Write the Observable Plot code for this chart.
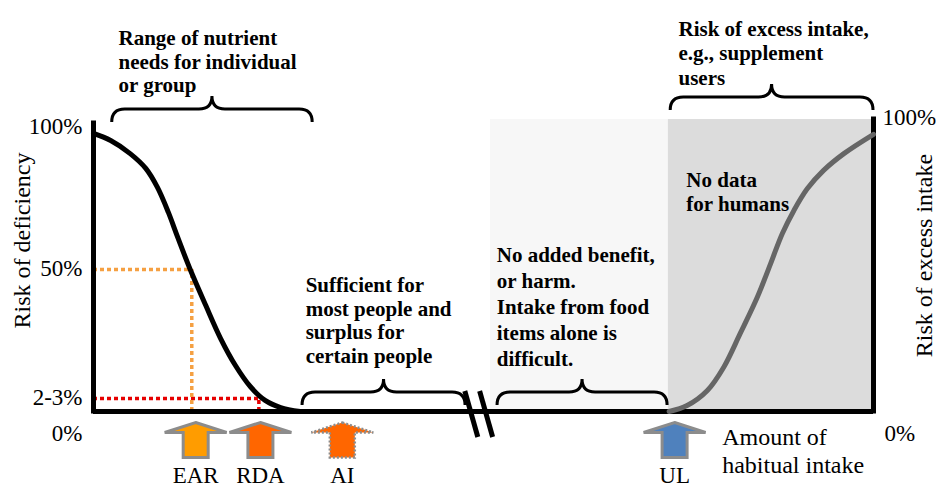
<!DOCTYPE html>
<html><head><meta charset="utf-8">
<script src="https://cdn.jsdelivr.net/npm/d3@7"></script>
<script src="https://cdn.jsdelivr.net/npm/@observablehq/plot@0.6"></script>
<style>
body{margin:0;background:#fff}
svg{display:block;overflow:visible}
svg text, svg tspan{font-family:'Liberation Serif','Times New Roman',serif !important}
</style>
</head><body><div id="chart"></div>
<script>
// ---- data (x: amount of habitual intake, arbitrary units 0-100; y: risk %) ----
const deficiencyX = [0, 2.2, 4.7, 6.7, 8.2, 9.6, 10.8, 12.4, 14.4, 16.3, 18.2, 20.1, 22.0, 24.0, 26.5];
const deficiencyY = [97.9, 95.4, 90.8, 85.6, 78.9, 70.1, 61.3, 50, 37.3, 25.7, 16.2, 8.8, 3.9, 1.4, 0];
const excessX = [73.8, 76.1, 78.7, 80.8, 82.9, 85.1, 86.8, 88.3, 89.8, 91.5, 93.6, 96.2, 100];
const excessY = [0, 2.1, 7.4, 15.6, 27.4, 40.2, 52.0, 62.6, 70.8, 78.4, 84.9, 90.8, 97.6];

const refLevels = [50, 4.6];          // 50% (EAR), 2-3% (RDA)
const refX = [12.6, 21.2];
const refColors = ["#f5a042", "#e60000"];

const leftTickValues = [100, 50, 4.6];
const leftTickLabels = ["100%", "50%", "2-3%"];

const arrowNames = ["EAR", "RDA", "AI", "UL"];
const arrowX = [13.1, 21.4, 31.9, 74.5];
const arrowFill = ["#ff9c00", "#ff6600", "#ff6600", "#4f81bd"];
const arrowDotted = [false, false, true, false];

const zoneX1 = [50.9, 73.7];
const zoneX2 = [73.7, 100];
const zoneTop = [102.8, 102.8];
const zoneFill = ["#f7f7f7", "#dcdcdc"];

const braceX1 = [2.4, 26.8, 51.8, 74.0];
const braceX2 = [28.1, 47.7, 73.6, 100];
const braceY = [101.8, 2.1, 2.1, 106];

const breakX = [48.5, 50.4];

const notes = [
  "Range of nutrient\nneeds for individual\nor group",
  "Sufficient for\nmost people and\nsurplus for\ncertain people",
  "No added benefit,\nor harm.\nIntake from food\nitems alone is\ndifficult.",
  "No data\nfor humans",
  "Risk of excess intake,\ne.g., supplement\nusers"
];
const noteX = [3.2, 27.2, 51.7, 76.0, 75.0];
const noteY = [134.9, 47.9, 59.2, 84.9, 138.4];
const noteLH = [1.12, 1.12, 1.24, 1.14, 1.17];

// ---- build tables ----
const deficiency = deficiencyX.map((x, i) => ({x, y: deficiencyY[i]}));
const excess = excessX.map((x, i) => ({x, y: excessY[i]}));
const refs = refLevels.map((y, i) => ({y, x: refX[i], c: refColors[i]}));
const arrows = arrowNames.map((n, i) => ({n, x: arrowX[i], fill: arrowFill[i], dotted: arrowDotted[i]}));
const zones = zoneX1.map((x1, i) => ({x1, x2: zoneX2[i], top: zoneTop[i], fill: zoneFill[i]}));
const braces = braceX1.map((x1, i) => ({x1, x2: braceX2[i], y: braceY[i]}));
const noteRows = notes.map((t, i) => ({t, x: noteX[i], y: noteY[i], lh: noteLH[i]}));

const arrowSymbol = {draw(ctx) {
  ctx.moveTo(0, -17.5); ctx.lineTo(31, -7.5); ctx.lineTo(12.5, -7.5); ctx.lineTo(12.5, 17.5);
  ctx.lineTo(-12.5, 17.5); ctx.lineTo(-12.5, -7.5); ctx.lineTo(-31, -7.5); ctx.closePath();
}};

function bracePath(x1, x2, y0, r, t) {
  const yb = y0 - r, yp = yb - t, xm = (x1 + x2) / 2;
  return `M${x1},${y0} Q${x1},${yb} ${x1 + r},${yb} L${xm - t},${yb} Q${xm},${yb} ${xm},${yp} ` +
         `Q${xm},${yb} ${xm + t},${yb} L${x2 - r},${yb} Q${x2},${yb} ${x2},${y0}`;
}

const decorations = (index, scales) => {
  const g = d3.create("svg:g").attr("fill", "none").attr("stroke", "#000");
  for (const b of braces) {
    g.append("path").attr("stroke-width", 3)
      .attr("d", bracePath(scales.x(b.x1), scales.x(b.x2), scales.y(b.y), 13, 13));
  }
  const y0 = scales.y(0);
  for (const bx of breakX) {
    const px = scales.x(bx);
    g.append("line").attr("stroke-width", 5)
      .attr("x1", px - 6.5).attr("y1", y0 - 20).attr("x2", px + 6.5).attr("y2", y0 + 26);
  }
  return g.node();
};

const serif = "Liberation Serif";
const T = {fill: "#000", fontFamily: serif};

const chart = Plot.plot({
  width: 938, height: 486,
  marginLeft: 93, marginRight: 65, marginTop: 127, marginBottom: 75,
  x: {domain: [0, 100], axis: null},
  y: {domain: [0, 100], axis: null},
  color: {type: "identity"},
  style: {fontFamily: serif, background: "#fff", overflow: "visible", color: "#000"},
  marks: [
    Plot.rect(zones, {x1: "x1", x2: "x2", y1: () => 0, y2: "top", fill: "fill"}),
    Plot.ruleY(refs, {y: "y", x1: () => 0, x2: "x", stroke: "c", strokeWidth: 3.5, strokeDasharray: "4,3"}),
    Plot.ruleX(refs, {x: "x", y1: () => 0, y2: "y", stroke: "c", strokeWidth: 3.5, strokeDasharray: "4,3"}),
    Plot.ruleY([0], {x1: 0, x2: 100, stroke: "#000", strokeWidth: 5}),
    Plot.ruleX([0], {y1: 0, y2: 101.4, stroke: "#000", strokeWidth: 5, strokeLinecap: "square"}),
    Plot.ruleX([100], {y1: 0, y2: 102.8, stroke: "#000", strokeWidth: 5, strokeLinecap: "square"}),
    Plot.line(deficiency, {x: "x", y: "y", stroke: "#000", strokeWidth: 5, curve: "catmull-rom"}),
    Plot.line(excess, {x: "x", y: "y", stroke: "#666", strokeWidth: 5, curve: "catmull-rom"}),
    decorations,
    Plot.dot(arrows.filter(d => !d.dotted), {x: "x", y: () => 0, dy: 28.5, symbol: arrowSymbol, fill: "fill", stroke: "#8c8c8c", strokeWidth: 3}),
    Plot.dot(arrows.filter(d => d.dotted), {x: "x", y: () => 0, dy: 28.5, symbol: arrowSymbol, fill: "fill", stroke: "#8c8c8c", strokeWidth: 2.5, strokeDasharray: "2,2"}),
    Plot.text(arrows, {...T, x: "x", y: () => 0, dy: 55, text: "n", lineAnchor: "top", textAnchor: "middle", fontSize: 23}),
    // left tick labels
    Plot.text(leftTickValues, {...T, x: () => 0, y: d => d, text: (d, i) => leftTickLabels[i], dx: -11, dy: -1, textAnchor: "end", fontSize: 23}),
    Plot.text(["0%"], {...T, x: () => 0, y: () => 0, text: d => d, dx: -11, dy: 22, textAnchor: "end", fontSize: 23}),
    // right tick labels
    Plot.text(["100%"], {...T, x: () => 100, y: () => 100, text: d => d, dx: 9, dy: -10, textAnchor: "start", fontSize: 23}),
    Plot.text(["0%"], {...T, x: () => 100, y: () => 0, text: d => d, dx: 11, dy: 22, textAnchor: "start", fontSize: 23}),
    // axis titles
    Plot.text(["Risk of deficiency"], {...T, x: () => -9.1, y: () => 60.2, text: d => d, rotate: -90, fontSize: 24}),
    Plot.text(["Risk of excess intake"], {...T, x: () => 106.5, y: () => 54.9, text: d => d, rotate: -90, fontSize: 24}),
    Plot.text(["Amount of\nhabitual intake"], {...T, x: () => 80.6, y: () => -4.9, text: d => d, textAnchor: "start", lineAnchor: "top", lineHeight: 1.17, fontSize: 24}),
    // annotations
    ...noteRows.map(r => Plot.text([r], {...T, x: "x", y: "y", text: "t", textAnchor: "start", lineAnchor: "top", lineHeight: r.lh, fontSize: 21, fontWeight: "bold"}))
  ]
});
document.getElementById("chart").append(chart);
</script>
</body></html>
